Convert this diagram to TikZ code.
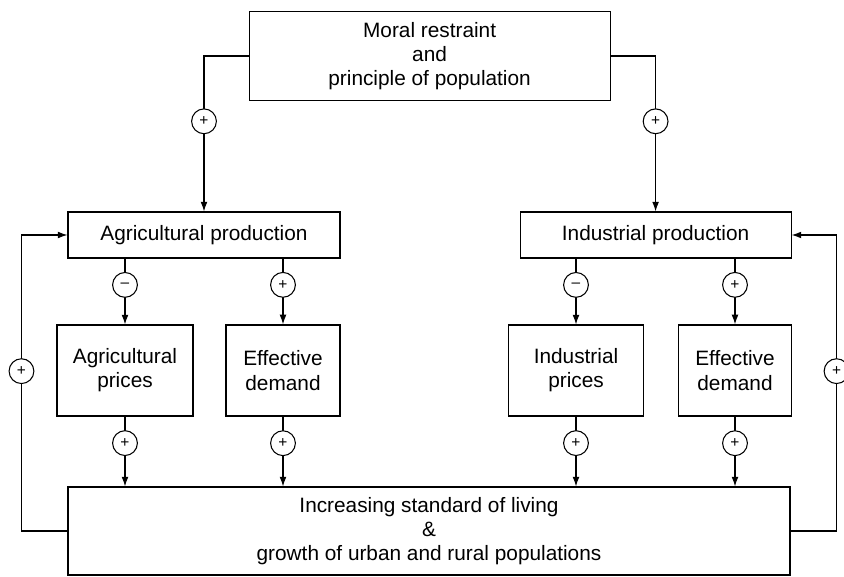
\documentclass[tikz,border=0pt]{standalone}
\usepackage{fontspec}
\setmainfont{Liberation Sans}
\usetikzlibrary{arrows.meta}

\begin{document}
\begin{tikzpicture}[
		font=\fontsize{14.8}{17.2}\selectfont,
		line width=0.75pt,
		>={Latex[length=2.4mm,width=1.7mm]},
		box/.style={draw,rectangle,align=center,inner sep=0pt},
		sign/.style={draw,circle,fill=white,inner sep=0pt,minimum size=6.2mm,font=\fontsize{11}{11}\selectfont}
	]
		\useasboundingbox (0,0) rectangle (21.1,14.4);
		
		% Moral restraint
		\node[box,minimum width=9.025cm,minimum height=2.225cm] (moral) at (10.74,13.0) {Moral restraint\\and\\principle of population};
		
		% Production
		\node[box,minimum width=6.8cm,minimum height=1.15cm] (agr) at (5.1,8.525) {Agricultural production};
		\node[box,minimum width=6.775cm,minimum height=1.15cm] (ind) at (16.39,8.525) {Industrial production};
		
		% Prices and demand
		\node[box,minimum width=3.4cm,minimum height=2.275cm] (aprc) at (3.125,5.1375) {Agricultural\\prices};
		\node[box,line width=0.95pt,minimum width=2.85cm,minimum height=2.275cm] (adem) at (7.075,5.1375) {Effective\\demand};
		\node[box,minimum width=3.375cm,minimum height=2.275cm] (iprc) at (14.4,5.1375) {Industrial\\prices};
		\node[box,line width=0.95pt,minimum width=2.825cm,minimum height=2.275cm] (idem) at (18.375,5.1375) {Effective\\demand};
		
		% Standard of living
		\node[box,minimum width=18.05cm,minimum height=2.2cm] (life) at (10.725,1.125) {Increasing standard of living\\\&\\growth of urban and rural populations};
		
		% Lines from moral restraint
		\draw[->] (moral.west) -| node[sign,pos=0.71]{+} (agr.north);
		\draw[->] (moral.east) -| node[sign,pos=0.71]{+} (ind.north);
		
		% Lines from production
		\draw[->] (agr.south -| aprc.north) -- node[sign,pos=0.4]{\textendash} (aprc.north);
		\draw[->] (agr.south -| adem.north) -- node[sign,pos=0.4]{+} (adem.north);
		\draw[->] (ind.south -| iprc.north) -- node[sign,pos=0.4]{\textendash} (iprc.north);
		\draw[->] (ind.south -| idem.north) -- node[sign,pos=0.4]{+} (idem.north);
		
		% Lines to standard of living
		\draw[->] (aprc.south) -- node[sign,pos=0.38]{+} (aprc.south |- life.north);
		\draw[->] (adem.south) -- node[sign,pos=0.38]{+} (adem.south |- life.north);
		\draw[->] (iprc.south) -- node[sign,pos=0.38]{+} (iprc.south |- life.north);
		\draw[->] (idem.south) -- node[sign,pos=0.38]{+} (idem.south |- life.north);
		
		% Feedback lines
		\draw[->] (life.west) -- ++(-1.15,0) |- node[sign,pos=0.27]{+} (agr.west);
		\draw[->] (life.east) -- ++(1.15,0) |- node[sign,pos=0.27]{+} (ind.east);
	\end{tikzpicture}
\end{document}
